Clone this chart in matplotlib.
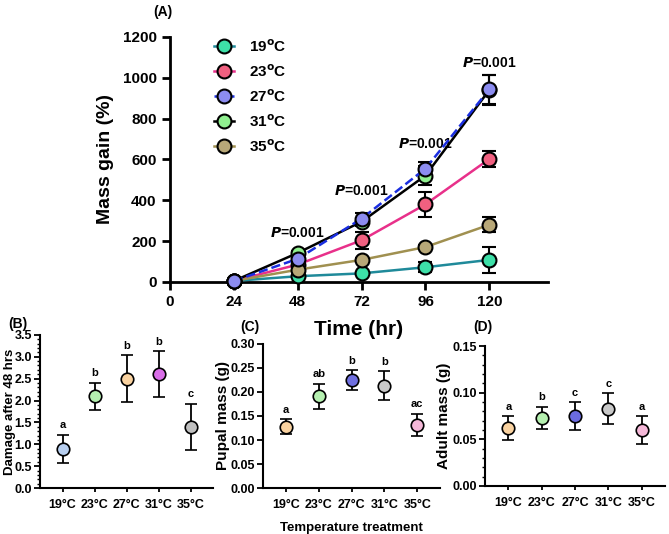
import matplotlib.pyplot as plt
from matplotlib.lines import Line2D
from matplotlib.ticker import MultipleLocator

plt.rcParams["font.family"] = ["Liberation Sans", "DejaVu Sans"]
plt.rcParams["font.weight"] = "bold"

# ---- panel A data ----
TIME = [24, 48, 72, 96, 120]
SERIES = ["19", "23", "27", "31", "35"]
DRAW_ORDER = ["19", "23", "35", "31", "27"]
GAIN = {
    "19": [5, 28, 42, 72, 108],
    "23": [5, 85, 204, 380, 602],
    "27": [5, 113, 310, 555, 943],
    "31": [5, 142, 295, 521, 940],
    "35": [5, 60, 108, 171, 280],
}
GAIN_ERR = {
    "19": [0, 5, 8, 25, 62],
    "23": [0, 10, 43, 60, 41],
    "27": [0, 10, 27, 32, 72],
    "31": [0, 10, 20, 45, 75],
    "35": [0, 5, 10, 12, 36],
}
P_TEXT_X = [48, 72, 96, 120]
P_TEXT_Y = [205, 410, 640, 1040]

# ---- panels B, C, D data ----
TEMPS = ["19°C", "23°C", "27°C", "31°C", "35°C"]
DAMAGE = [0.9, 2.1, 2.5, 2.6, 1.4]
DAMAGE_ERR = [0.32, 0.31, 0.53, 0.52, 0.52]
DAMAGE_LET = ["a", "b", "b", "b", "c"]
PUPA = [0.128, 0.191, 0.225, 0.213, 0.132]
PUPA_ERR = [0.016, 0.026, 0.020, 0.030, 0.023]
PUPA_LET = ["a", "ab", "b", "b", "ac"]
ADULT = [0.062, 0.073, 0.075, 0.083, 0.060]
ADULT_ERR = [0.0125, 0.012, 0.0145, 0.0165, 0.015]
ADULT_LET = ["a", "b", "c", "c", "a"]

LINE_COL = {"19": "#1f8a9a", "23": "#e8308a", "27": "#1a2ee0", "31": "#000000", "35": "#a09050"}
FACE_COL = {"19": "#3de0a8", "23": "#f06080", "27": "#8c8cf0", "31": "#90f090", "35": "#b8a878"}
LINE_STY = {"19": "-", "23": "-", "27": "--", "31": "-", "35": "-"}

fig = plt.figure(figsize=(6.69, 5.34), dpi=100)

# ---------------- panel A ----------------
ax = fig.add_axes([0.254, 0.472, 0.565, 0.459])
for s in DRAW_ORDER:
    ax.errorbar(TIME, GAIN[s], yerr=GAIN_ERR[s], color=LINE_COL[s], ls=LINE_STY[s], lw=1.8,
                marker="o", ms=10, mfc=FACE_COL[s], mec="black", mew=1.5,
                ecolor="black", elinewidth=1.5, capsize=5, capthick=1.5,
                clip_on=False, zorder=3)
for x, y in zip(P_TEXT_X, P_TEXT_Y):
    ax.text(x, y, "$\\mathbf{\\it{P}}$=0.001", ha="center", va="bottom", fontsize=10)
ax.set_xlim(0, 142)
ax.set_ylim(0, 1200)
ax.set_xticks([0, 24, 48, 72, 96, 120])
ax.set_yticks(range(0, 1201, 200))
ax.spines[["top", "right"]].set_visible(False)
for sp in ["left", "bottom"]:
    ax.spines[sp].set_linewidth(2)
ax.tick_params(width=2, length=6, labelsize=11)
ax.set_xlabel("Time (hr)", fontsize=15, fontweight="bold", labelpad=8)
ax.set_ylabel("Mass gain (%)", fontsize=14, fontweight="bold", labelpad=6)
handles = [Line2D([], [], color=LINE_COL[s], ls=LINE_STY[s], lw=1.8, marker="o", ms=10,
                  mfc=FACE_COL[s], mec="black", mew=1.5) for s in SERIES]
labels = [f"{s}$^{{\\mathrm{{o}}}}$C" for s in SERIES]
ax.legend(handles, labels, loc="upper left", bbox_to_anchor=(0.1, 1.02), frameon=False,
          fontsize=11, handlelength=1.3, labelspacing=0.55, handletextpad=1.0, borderaxespad=0)
fig.text(0.243, 0.977, "(A)", fontsize=10, ha="center", va="center")


# ---------------- panels B, C, D ----------------
def plot_points(rect, vals, errs, lets, colors, ylim, step, ylabel, label_x, label_size, tag,
                tag_xy, minor=None, fmt="{:.1f}"):
    ax = fig.add_axes(rect)
    xs = range(len(TEMPS))
    for x, v, e, c in zip(xs, vals, errs, colors):
        ax.errorbar(x, v, yerr=e, marker="o", ms=9, mfc=c, mec="black", mew=1.2,
                    ecolor="black", elinewidth=1.3, capsize=4, capthick=1.3, zorder=3)
    pad = (ylim[1] - ylim[0]) * 0.03
    for x, v, e, t in zip(xs, vals, errs, lets):
        ax.text(x, v + e + pad, t, ha="center", va="bottom", fontsize=8)
    ax.set_xlim(-0.7, 4.7)
    ax.set_ylim(*ylim)
    ax.set_xticks(list(xs))
    ax.set_xticklabels(TEMPS)
    ax.yaxis.set_major_locator(MultipleLocator(step))
    ax.yaxis.set_major_formatter(lambda v, p: fmt.format(v))
    if minor:
        ax.yaxis.set_minor_locator(MultipleLocator(minor))
    ax.tick_params(axis="x", width=1.3, length=3, labelsize=9, pad=5)
    ax.tick_params(axis="y", width=1.3, length=4, labelsize=9, pad=2)
    ax.tick_params(axis="y", which="minor", width=1, length=2.5)
    ax.spines[["top", "right"]].set_visible(False)
    for sp in ["left", "bottom"]:
        ax.spines[sp].set_linewidth(1.5)
    ax.set_ylabel(ylabel, fontsize=label_size, fontweight="bold")
    ax.yaxis.set_label_coords(label_x, 0.5)
    fig.text(tag_xy[0], tag_xy[1], tag, fontsize=10, ha="center", va="center")
    return ax


plot_points([0.06, 0.086, 0.259, 0.287], DAMAGE, DAMAGE_ERR, DAMAGE_LET,
            ["#b8cff0", "#b5f0b0", "#f9d2a0", "#d96ee8", "#c0c0c0"],
            (0, 3.5), 0.5, "Damage after 48 hrs", -0.14, 9.5, "(B)", (0.027, 0.393), minor=0.1)
axc = plot_points([0.393, 0.086, 0.265, 0.270], PUPA, PUPA_ERR, PUPA_LET,
                  ["#f9d2a0", "#b5f0b0", "#7070e0", "#c8c8c8", "#f5b8d8"],
                  (0, 0.30), 0.05, "Pupal mass (g)", -0.185, 11, "(C)", (0.373, 0.388),
                  fmt="{:.2f}")
plot_points([0.725, 0.090, 0.269, 0.262], ADULT, ADULT_ERR, ADULT_LET,
            ["#f9d2a0", "#b5f0b0", "#6b6be0", "#c8c8c8", "#f5b8d8"],
            (0, 0.15), 0.05, "Adult mass (g)", -0.19, 11, "(D)", (0.722, 0.388),
            minor=0.01, fmt="{:.2f}")
axc.set_xlabel("Temperature treatment", fontsize=9.5, fontweight="bold", labelpad=8)

fig.savefig("out.png", dpi=100)
